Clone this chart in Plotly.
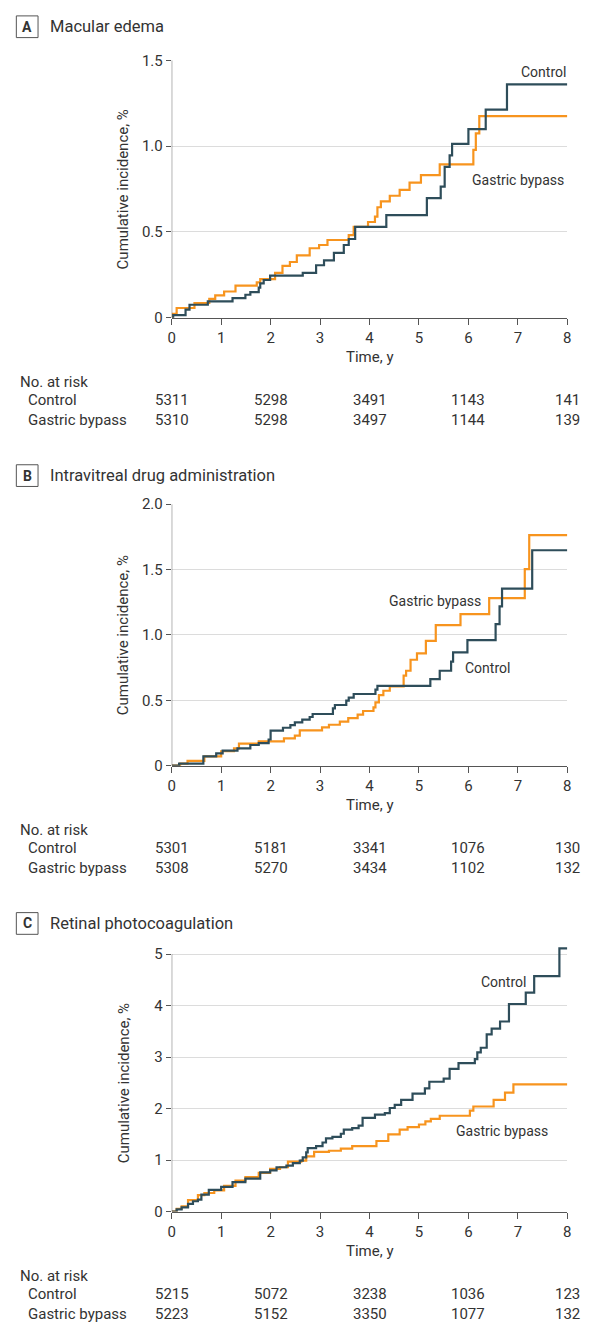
import plotly.graph_objects as go

W, H = 594, 1332
FONT = "Roboto"
TXT = "#333333"
AXIS = "#555555"
CTRL_COLOR = "#2e4d5a"
GB_COLOR = "#f7941e"

# ---- Panel A: Macular edema ----
a_ctrl_t = [0, 0.03, 0.28, 0.36, 0.73, 1.23, 1.49, 1.59, 1.76, 1.79, 1.86, 1.99, 2.65, 2.92, 3.08,
            3.28, 3.48, 3.58, 3.71, 4.34, 5.16, 5.44, 5.52, 5.62, 5.67, 6.0, 6.35, 6.78, 8.0]
a_ctrl_y = [0, 0.015, 0.048, 0.076, 0.096, 0.115, 0.134, 0.149, 0.176, 0.2, 0.22, 0.245, 0.262, 0.306, 0.334,
            0.378, 0.424, 0.459, 0.53, 0.598, 0.697, 0.764, 0.879, 0.946, 1.013, 1.099, 1.213, 1.36, 1.36]
a_gb_t = [0, 0.02, 0.1, 0.46, 0.76, 0.88, 1.06, 1.29, 1.72, 1.79, 2.09, 2.24, 2.39, 2.53, 2.79, 2.98,
          3.15, 3.58, 3.68, 3.97, 4.11, 4.16, 4.23, 4.41, 4.61, 4.81, 5.04, 5.42, 6.1, 6.15, 6.22, 8.0]
a_gb_y = [0, 0.023, 0.057, 0.086, 0.11, 0.13, 0.153, 0.187, 0.206, 0.225, 0.262, 0.302, 0.325, 0.363, 0.405, 0.424,
          0.453, 0.482, 0.53, 0.558, 0.589, 0.644, 0.678, 0.711, 0.745, 0.787, 0.831, 0.894, 0.978, 1.074, 1.175, 1.175]
a_risk_ctrl = ["5311", "5298", "3491", "1143", "141"]
a_risk_gb = ["5310", "5298", "3497", "1144", "139"]

# ---- Panel B: Intravitreal drug administration ----
b_ctrl_t = [0, 0.15, 0.64, 0.9, 1.03, 1.33, 1.59, 1.76, 1.96, 2.0, 2.25, 2.4, 2.49, 2.64, 2.79, 2.85, 3.26,
            3.3, 3.53, 3.58, 3.68, 4.12, 4.16, 5.23, 5.42, 5.65, 5.69, 5.98, 6.55, 6.63, 6.68, 7.29, 8.0]
b_ctrl_y = [0, 0.015, 0.071, 0.094, 0.115, 0.132, 0.158, 0.173, 0.2, 0.268, 0.29, 0.31, 0.331, 0.352, 0.372, 0.395, 0.438,
            0.464, 0.497, 0.52, 0.548, 0.581, 0.611, 0.662, 0.726, 0.795, 0.866, 0.96, 1.083, 1.218, 1.355, 1.648, 1.648]
b_gb_t = [0, 0.17, 0.32, 0.66, 1.0, 1.26, 1.36, 1.76, 2.27, 2.49, 2.59, 3.04, 3.18, 3.4, 3.57, 3.76, 3.87,
          4.08, 4.12, 4.19, 4.28, 4.41, 4.69, 4.74, 4.83, 4.96, 5.14, 5.34, 5.84, 6.42, 7.14, 7.23, 8.0]
b_gb_y = [0, 0.015, 0.036, 0.071, 0.11, 0.132, 0.168, 0.186, 0.209, 0.229, 0.27, 0.293, 0.313, 0.336, 0.364, 0.39, 0.418,
          0.446, 0.484, 0.54, 0.573, 0.606, 0.688, 0.726, 0.81, 0.859, 0.955, 1.075, 1.159, 1.281, 1.503, 1.763, 1.763]
b_risk_ctrl = ["5301", "5181", "3341", "1076", "130"]
b_risk_gb = ["5308", "5270", "3434", "1102", "132"]

# ---- Panel C: Retinal photocoagulation ----
c_ctrl_t = [0, 0.1, 0.2, 0.33, 0.43, 0.53, 0.6, 0.75, 1.0, 1.23, 1.49, 1.79, 1.99, 2.12, 2.32, 2.45, 2.59,
            2.65, 2.72, 2.75, 2.92, 3.05, 3.12, 3.25, 3.42, 3.48, 3.65, 3.78, 3.86, 4.11, 4.31, 4.41, 4.51,
            4.64, 4.87, 5.12, 5.21, 5.5, 5.62, 5.8, 6.13, 6.18, 6.25, 6.37, 6.47, 6.64, 6.82, 7.16, 7.33,
            7.84, 8.0]
c_ctrl_y = [0, 0.04, 0.08, 0.15, 0.2, 0.23, 0.33, 0.42, 0.48, 0.57, 0.64, 0.76, 0.8, 0.86, 0.89, 0.94, 0.99,
            1.05, 1.15, 1.23, 1.27, 1.34, 1.42, 1.45, 1.51, 1.59, 1.62, 1.67, 1.82, 1.88, 1.91, 2.01, 2.07,
            2.17, 2.29, 2.39, 2.52, 2.58, 2.77, 2.88, 2.96, 3.09, 3.18, 3.44, 3.55, 3.69, 4.03, 4.25, 4.57,
            5.11, 5.11]
c_gb_t = [0, 0.1, 0.2, 0.33, 0.53, 0.66, 0.86, 1.06, 1.29, 1.49, 1.76, 1.99, 2.19, 2.35, 2.62, 2.72, 2.88,
          3.18, 3.42, 3.65, 4.14, 4.38, 4.61, 4.77, 5.0, 5.13, 5.24, 5.42, 6.03, 6.1, 6.51, 6.74, 6.91, 8.0]
c_gb_y = [0, 0.05, 0.1, 0.22, 0.32, 0.36, 0.41, 0.5, 0.6, 0.67, 0.75, 0.83, 0.86, 0.97, 0.99, 1.07, 1.16,
          1.18, 1.22, 1.27, 1.37, 1.5, 1.59, 1.64, 1.69, 1.75, 1.8, 1.86, 1.96, 2.04, 2.17, 2.31, 2.47, 2.47]
c_risk_ctrl = ["5215", "5072", "3238", "1036", "123"]
c_risk_gb = ["5223", "5152", "3350", "1077", "132"]

x_ticks = list(range(0, 9))
risk_times = [0, 2, 4, 6, 8]
group_names = ["Control", "Gastric bypass"]

# panel geometry (pixels from page top)
panels = [
    dict(letter="A", title="Macular edema", ctrl=(a_ctrl_t, a_ctrl_y), gb=(a_gb_t, a_gb_y),
         risk=(a_risk_ctrl, a_risk_gb), ymax=1.5, yticks=[0, 0.5, 1.0, 1.5],
         yticktext=["0", "0.5", "1.0", "1.5"], top=52, bottom=313, title_y=18,
         lab_ctrl=(572, 64, "right"), lab_gb=(472, 173, "left")),
    dict(letter="B", title="Intravitreal drug administration", ctrl=(b_ctrl_t, b_ctrl_y), gb=(b_gb_t, b_gb_y),
         risk=(b_risk_ctrl, b_risk_gb), ymax=2.0, yticks=[0, 0.5, 1.0, 1.5, 2.0],
         yticktext=["0", "0.5", "1.0", "1.5", "2.0"], top=502, bottom=767, title_y=473,
         lab_ctrl=(465, 668, "left"), lab_gb=(388, 600, "left")),
    dict(letter="C", title="Retinal photocoagulation", ctrl=(c_ctrl_t, c_ctrl_y), gb=(c_gb_t, c_gb_y),
         risk=(c_risk_ctrl, c_risk_gb), ymax=5.0, yticks=[0, 1, 2, 3, 4, 5],
         yticktext=["0", "1", "2", "3", "4", "5"], top=958, bottom=1219, title_y=927,
         lab_ctrl=(481, 986, "left"), lab_gb=(456, 1137, "left")),
]

X0, X1 = 170, 571


def py(p):
    return 1 - p / H


def px(p):
    return p / W


fig = go.Figure()
annotations = []
shapes = []

for i, p in enumerate(panels, start=1):
    xa = "x" if i == 1 else f"x{i}"
    ya = "y" if i == 1 else f"y{i}"
    ppu = (p["bottom"] - p["top"]) / p["ymax"]
    data_max = max(max(p["ctrl"][1]), max(p["gb"][1]))
    # leave headroom above the top tick when a curve climbs past it
    ytop = p["ymax"] if data_max <= p["ymax"] else data_max + 6 / ppu
    top_px = p["bottom"] - ytop * ppu

    for (t, y), color, name in [(p["gb"], GB_COLOR, "Gastric bypass"), (p["ctrl"], CTRL_COLOR, "Control")]:
        fig.add_trace(go.Scatter(x=t, y=y, mode="lines", line=dict(color=color, width=2.2, shape="hv"),
                                 xaxis=xa, yaxis=ya, name=name, showlegend=False, hoverinfo="skip"))

    xkey = "xaxis" if i == 1 else f"xaxis{i}"
    ykey = "yaxis" if i == 1 else f"yaxis{i}"
    fig.update_layout({
        xkey: dict(domain=[px(X0), px(X1)], anchor=ya, range=[0, 8], tickvals=x_ticks,
                   ticks="outside", ticklen=6, tickwidth=1, tickcolor=AXIS,
                   showline=True, linecolor=AXIS, linewidth=1, showgrid=False, zeroline=False,
                   tickfont=dict(family=FONT, size=15, color=TXT)),
        ykey: dict(domain=[py(p["bottom"]), py(top_px)], anchor=xa, range=[0, ytop],
                   tickvals=p["yticks"], ticktext=p["yticktext"],
                   ticks="outside", ticklen=5, tickwidth=1, tickcolor=AXIS,
                   showline=False, showgrid=True, gridcolor="#dcdcdc", gridwidth=1, zeroline=False,
                   tickfont=dict(family=FONT, size=15, color=TXT)),
    })
    # y axis line from 0 to the top tick
    shapes.append(dict(type="line", xref=xa, yref=ya, x0=0, x1=0, y0=0, y1=p["ymax"],
                       line=dict(color=AXIS, width=1), layer="above"))

    # panel header: boxed letter + title
    shapes.append(dict(type="rect", xref="paper", yref="paper", x0=px(12.5), x1=px(34.5),
                       y0=py(p["title_y"] + 11), y1=py(p["title_y"] - 11),
                       line=dict(color=AXIS, width=1), fillcolor="white"))
    annotations.append(dict(xref="paper", yref="paper", x=px(23.5), y=py(p["title_y"]),
                            text=f"<b>{p['letter']}</b>", showarrow=False, xanchor="center", yanchor="middle",
                            font=dict(family=FONT, size=14, color=TXT)))
    annotations.append(dict(xref="paper", yref="paper", x=px(45), y=py(p["title_y"]),
                            text=p["title"], showarrow=False, xanchor="left", yanchor="middle",
                            font=dict(family=FONT, size=16.5, color=TXT)))

    # y axis title
    annotations.append(dict(xref="paper", yref="paper", x=px(121), y=py((p["top"] + p["bottom"]) / 2),
                            text="Cumulative incidence, %", textangle=-90, showarrow=False,
                            xanchor="center", yanchor="middle",
                            font=dict(family=FONT, size=15, color=TXT)))
    # x axis title
    annotations.append(dict(xref="paper", yref="paper", x=px((X0 + X1) / 2), y=py(p["bottom"] + 40),
                            text="Time, y", showarrow=False, xanchor="center", yanchor="middle",
                            font=dict(family=FONT, size=15, color=TXT)))

    # curve labels
    for (lx, ly, anc), label in [(p["lab_ctrl"], "Control"), (p["lab_gb"], "Gastric bypass")]:
        annotations.append(dict(xref="paper", yref="paper", x=px(lx), y=py(ly), text=label,
                                showarrow=False, xanchor=anc, yanchor="middle",
                                font=dict(family=FONT, size=14, color=TXT)))

    # number at risk table
    base = p["bottom"] + 65
    annotations.append(dict(xref="paper", yref="paper", x=px(14), y=py(base), text="No. at risk",
                            showarrow=False, xanchor="left", yanchor="middle",
                            font=dict(family=FONT, size=15, color=TXT)))
    for row, (gname, vals) in enumerate(zip(group_names, p["risk"])):
        ry = base + 18.5 + row * 20
        annotations.append(dict(xref="paper", yref="paper", x=px(22), y=py(ry), text=gname,
                                showarrow=False, xanchor="left", yanchor="middle",
                                font=dict(family=FONT, size=15, color=TXT)))
        for t, v in zip(risk_times, vals):
            annotations.append(dict(xref=xa, yref="paper", x=t, y=py(ry), text=v,
                                    showarrow=False, xanchor="center", yanchor="middle",
                                    font=dict(family=FONT, size=15, color=TXT)))

fig.update_layout(width=W, height=H, margin=dict(l=0, r=0, t=0, b=0),
                  paper_bgcolor="white", plot_bgcolor="white",
                  annotations=annotations, shapes=shapes, showlegend=False)

fig.write_html("out.html")
